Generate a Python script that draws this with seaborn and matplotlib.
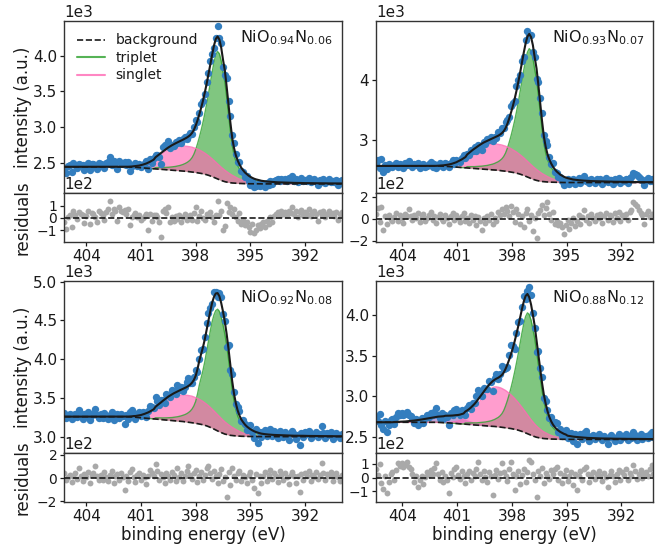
import numpy as np
import pandas as pd
import matplotlib
matplotlib.use("Agg")
import matplotlib.pyplot as plt
from matplotlib.lines import Line2D
import seaborn as sns

# ---------------------------------------------------------------- data
sample_labels = ["NiO$_{0.94}$N$_{0.06}$", "NiO$_{0.93}$N$_{0.07}$",
                 "NiO$_{0.92}$N$_{0.08}$", "NiO$_{0.88}$N$_{0.12}$"]
energy_start = [405.2, 405.45, 405.2, 405.45]      # eV of first channel
energy_step = 0.1
n_channels = 153
xtick_values = [404, 401, 398, 395, 392]
main_yticks = [[2500, 3000, 3500, 4000], [3000, 4000],
               [3000, 3500, 4000, 4500, 5000], [2500, 3000, 3500, 4000]]
main_ylims = [(2068, 4488), (2117, 4983), (2785, 5012), (2294, 4423)]
res_yticks = [[-100, 0, 100], [-200, 0, 200], [-200, 0, 200], [-100, 0, 100]]
res_ylims = [(-195, 198), (-215, 231), (-205, 214), (-176, 178)]

# background (Shirley-like): plateau left / right, transition from channel 33
bg_left = [2440, 2572, 3258, 2677]
bg_right = [2200, 2295, 3000, 2465]
bg_start = 33
bg_1 = [2439, 2439, 2438, 2437, 2436, 2435, 2433, 2431, 2429, 2427,
        2425, 2423, 2421, 2419, 2417, 2415, 2413, 2411, 2409, 2407,
        2405, 2403, 2401, 2399, 2397, 2395, 2393, 2391, 2389, 2387,
        2385, 2383, 2381, 2379, 2376, 2373, 2370, 2367, 2364, 2360,
        2356, 2352, 2347, 2342, 2336, 2329, 2321, 2312, 2302, 2291,
        2280, 2269, 2258, 2248, 2239, 2231, 2225, 2220, 2216, 2213,
        2211, 2209, 2207, 2206, 2205, 2204, 2203, 2203, 2202, 2202,
        2201, 2201, 2201, 2201, 2201]
bg_2 = [2571, 2571, 2570, 2568, 2567, 2566, 2564, 2562, 2559, 2557,
        2555, 2552, 2550, 2548, 2545, 2543, 2541, 2538, 2536, 2534,
        2532, 2529, 2527, 2525, 2522, 2520, 2518, 2515, 2513, 2511,
        2508, 2506, 2504, 2502, 2498, 2495, 2491, 2488, 2484, 2480,
        2475, 2470, 2465, 2459, 2452, 2444, 2435, 2424, 2413, 2400,
        2387, 2375, 2362, 2350, 2340, 2331, 2324, 2318, 2313, 2310,
        2308, 2305, 2303, 2302, 2301, 2300, 2298, 2298, 2297, 2297,
        2296, 2296, 2296, 2296, 2296]
bg_3 = [3257, 3257, 3256, 3255, 3254, 3253, 3250, 3248, 3246, 3244,
        3242, 3240, 3238, 3235, 3233, 3231, 3229, 3227, 3225, 3223,
        3220, 3218, 3216, 3214, 3212, 3210, 3207, 3205, 3203, 3201,
        3199, 3197, 3195, 3192, 3189, 3186, 3183, 3180, 3176, 3172,
        3168, 3163, 3158, 3153, 3146, 3139, 3130, 3120, 3110, 3098,
        3086, 3074, 3062, 3052, 3042, 3033, 3027, 3022, 3017, 3014,
        3012, 3010, 3008, 3006, 3005, 3004, 3003, 3003, 3002, 3002,
        3001, 3001, 3001, 3001, 3001]
bg_4 = [2676, 2676, 2675, 2674, 2673, 2673, 2671, 2669, 2667, 2665,
        2664, 2662, 2660, 2658, 2657, 2655, 2653, 2651, 2650, 2648,
        2646, 2644, 2642, 2641, 2639, 2637, 2635, 2634, 2632, 2630,
        2628, 2627, 2625, 2623, 2620, 2618, 2615, 2612, 2610, 2606,
        2603, 2599, 2595, 2590, 2585, 2579, 2572, 2564, 2555, 2545,
        2536, 2526, 2516, 2507, 2499, 2492, 2487, 2483, 2479, 2476,
        2475, 2473, 2471, 2470, 2469, 2469, 2468, 2468, 2467, 2467,
        2466, 2466, 2466, 2466, 2466]

# triplet component (counts above background), first channel given
trip_start = [50, 50, 50, 49]
trip_1 = [18, 20, 22, 24, 26, 29, 32, 36, 40, 45, 50, 56, 63,
          71, 80, 91, 104, 120, 140, 165, 200, 250, 320,
          405, 500, 605, 720, 850, 990, 1140, 1300, 1460, 1610,
          1730, 1790, 1770, 1680, 1530, 1400, 1190, 960, 730, 530,
          400, 310, 250, 205, 170, 143, 121, 104, 90, 79,
          70, 62, 56, 51, 46, 42, 39, 36, 33, 31,
          29, 27, 25, 24, 22, 21, 20, 19, 18, 17,
          16, 16, 15, 14, 14, 13, 13, 12, 12, 11,
          11, 10, 10, 10, 9, 9, 9, 8, 8, 8,
          8, 7, 7, 7, 7, 6, 6, 6, 6, 6]
trip_2 = [22, 24, 26, 29, 31, 35, 38, 43, 48, 54, 60, 67, 76,
          85, 96, 109, 125, 144, 168, 198, 240, 300, 384,
          486, 600, 726, 864, 1020, 1188, 1368, 1560, 1752, 1932,
          2076, 2148, 2124, 2016, 1836, 1680, 1428, 1152, 876, 636,
          480, 372, 300, 246, 204, 172, 145, 125, 108, 95,
          84, 74, 67, 61, 55, 50, 47, 43, 40, 37,
          35, 32, 30, 29, 26, 25, 24, 23, 22, 20,
          19, 19, 18, 17, 17, 16, 16, 14, 14, 13,
          13, 12, 12, 12, 11, 11, 11, 10, 10, 10,
          10, 8, 8, 8, 8, 7, 7, 7, 7, 7]
trip_3 = [16, 18, 19, 21, 23, 25, 28, 32, 35, 39, 44, 49, 55,
          62, 70, 80, 91, 105, 123, 145, 175, 219, 281,
          380, 500, 600, 700, 820, 960, 1100, 1240, 1370, 1470,
          1540, 1570, 1555, 1490, 1400, 1290, 1150, 980, 790, 600,
          450, 340, 260, 205, 165, 140, 118, 100, 87, 76,
          67, 59, 52, 46, 41, 37, 34, 32, 29, 27,
          25, 24, 22, 21, 19, 18, 18, 17, 16, 15,
          14, 14, 13, 12, 12, 11, 11, 11, 11, 10,
          10, 9, 9, 9, 8, 8, 8, 7, 7, 7,
          7, 6, 6, 6, 6, 5, 5, 5, 5, 5]
trip_4 = [15, 17, 18, 20, 22, 24, 27, 30, 33, 37, 42, 46, 52,
          59, 66, 76, 86, 100, 116, 137, 166, 208, 266,
          336, 415, 502, 598, 706, 822, 946, 1079, 1212, 1336,
          1436, 1490, 1480, 1420, 1320, 1210, 1060, 900, 740, 590,
          460, 360, 280, 220, 175, 142, 117, 98, 84, 73,
          64, 56, 50, 45, 41, 38, 35, 32, 30, 28,
          26, 24, 22, 21, 19, 18, 17, 16, 15, 14,
          13, 13, 12, 12, 11, 11, 11, 10, 10, 9,
          9, 9, 8, 8, 8, 7, 7, 7, 7, 7,
          7, 6, 6, 6, 6, 6, 5, 5, 5, 5, 5]

# singlet component
sing_start = [34, 33, 34, 38]
sing_1 = [2, 3, 5, 8, 12, 16, 22, 28, 36, 45,
          55, 66, 80, 94, 110, 127, 145, 165, 185, 205,
          225, 244, 262, 278, 292, 305, 316, 325, 333, 340,
          345, 348, 351, 352, 352, 350, 348, 343, 338, 331,
          324, 316, 306, 296, 285, 274, 262, 250, 238, 225,
          212, 199, 186, 173, 160, 147, 134, 121, 108, 96,
          84, 72, 62, 52, 44, 36, 30, 24, 18, 14,
          10, 7, 5, 3, 2, 1]
sing_2 = [2, 4, 6, 10, 15, 20, 27, 34, 44, 55,
          68, 81, 98, 116, 135, 156, 178, 203, 228, 252,
          277, 300, 322, 342, 359, 375, 389, 400, 410, 418,
          424, 428, 432, 433, 433, 431, 428, 422, 416, 407,
          399, 389, 376, 364, 351, 337, 322, 308, 293, 277,
          261, 245, 229, 213, 197, 181, 165, 149, 133, 118,
          103, 89, 76, 64, 54, 44, 37, 30, 22, 17,
          12, 9, 6, 4, 2, 1]
sing_3 = [2, 3, 5, 8, 12, 16, 22, 27, 35, 44,
          54, 65, 78, 92, 108, 124, 142, 162, 181, 201,
          221, 239, 257, 272, 286, 299, 310, 319, 326, 333,
          338, 341, 344, 345, 345, 343, 341, 336, 331, 324,
          318, 310, 300, 290, 279, 269, 257, 245, 233, 221,
          208, 195, 182, 170, 157, 144, 131, 119, 106, 94,
          82, 71, 61, 51, 43, 35, 29, 24, 18, 14,
          10, 7, 5, 3, 2, 1]
sing_4 = [4, 5, 7, 10, 14, 19, 25, 32, 41, 53, 66, 83, 101, 122,
          146, 173, 201, 232, 264, 297, 330, 362, 392, 420, 444, 463, 478, 487,
          490,
          489, 485, 479, 470, 459, 446, 432, 416, 398, 380, 360, 340, 319,
          297, 275, 254, 233, 212, 192, 173, 155, 138, 122, 108, 94, 82,
          71, 61, 52, 44, 37, 31, 26, 22, 18, 15, 12, 10]

# small extra component (only in the x = 0.12 sample)
minor_start = [0, 0, 0, 10]
minor_4 = [3, 4, 5, 6, 7, 9, 10, 12, 14, 16,
           18, 21, 24, 27, 30, 34, 38, 42, 46, 50,
           54, 58, 62, 66, 70, 73, 76, 78, 80, 81,
           82, 82, 81, 80, 78, 75, 72, 68, 64, 59,
           54, 49, 44, 39, 34, 29, 25, 21, 17, 14,
           11, 9, 7, 5, 4, 3, 2, 1, 1, 0]

# residuals (data - fit), counts
resid_1 = [-30, -85, 5, 25, -70, 60, 20, -10, 45, 30,
           20, -40, 15, 55, -50, 40, 35, 10, -30, 60,
           40, 25, -15, 50, 70, 135, 30, 75, 55, -25,
           85, 60, 45, 65, 30, 70, -60, 10, 25, 40,
           5, 20, -20, 0, 15, 30, -95, 35, -25, 20,
           25, 10, -35, -150, 60, 75, 40, 85, -30, 10,
           -25, 15, -10, 20, -30, 5, 30, -15, 10, 25,
           -20, 40, 85, -25, 15, 60, 0, -15, 30, 20,
           45, 10, -35, 20, 140, 25, 60, -100, -65, 120,
           50, 85, 35, 70, 10, -25, 40, -50, -20, -60,
           -30, -70, -110, -45, -120, -95, -60, -80, -50, -35,
           -75, -25, -45, 10, -30, 15, 30, 45, 20, 55,
           35, 50, 25, 60, 40, 90, 30, 55, 10, 45,
           65, 25, 50, 35, 70, 15, 40, 60, 30, -25,
           45, 20, 55, 10, 35, 60, 25, 40, 15, 50,
           -20, 30, 45]
resid_2 = [40, 95, -30, 110, -105, 20, -45, 35, 0, -20,
           15, 50, -25, 30, 10, -40, 45, 20, 85, 25,
           -15, 35, 10, 55, -30, 20, 40, -20, 5, 30,
           60, -10, 25, -35, 15, 45, 0, -25, 30, 10,
           -45, 20, 55, -15, 35, 5, -30, 25, 50, -20,
           10, -40, 30, -15, 20, -60, 15, -25, -105, 5,
           -35, 25, -10, 40, -50, 10, -20, 65, 30, 90,
           45, 110, 70, 20, 115, 60, -30, 85, 40, -45,
           25, -80, 55, 90, -20, 35, -110, 10, -175, 50,
           75, 125, 30, 95, 150, 40, -15, 60, -45, -25,
           -60, -35, -80, -140, -55, -15, -95, -40, 10, -70,
           -20, 30, -45, 15, 75, -10, 20, -35, 40, 5,
           -25, 30, 10, 45, -40, 20, 55, -15, 35, 25,
           -30, 50, 10, 60, -20, 35, 15, 45, -10, 65,
           80, 150, 130, 115, 80, 55, 30, -45, 40, 70,
           15, 45, 25]
resid_3 = [45, -20, 10, 30, -35, 15, 40, -10, 85, 20,
           -25, 35, 10, 55, -40, 25, 40, 105, 15, -20,
           30, -15, 50, 10, -30, 25, 60, -45, 15, 35,
           -20, 40, 5, -100, 20, -30, 55, 80, 10, -35,
           25, 45, -15, 30, 5, -50, 20, 70, 40, 15,
           125, 60, -20, 35, 10, -40, 45, 20, -15, 55,
           30, -25, 85, 10, 40, -30, 15, 60, 105, 25,
           -10, 40, 70, -35, 20, 55, -20, 30, 90, 100,
           45, -10, 60, 15, -45, 35, 80, -30, 10, -165,
           50, -60, 85, 20, -15, 40, 65, -25, 30, 10,
           -40, 25, 55, -20, -90, 35, -130, 15, -45, 20,
           50, -25, 30, 70, -10, 45, 15, -35, 60, 25,
           -20, 40, 10, -55, 30, 55, 20, -40, 15, -120,
           35, -15, 45, 20, 60, -25, 30, 10, 50, -10,
           25, 130, 40, -20, 35, 15, 55, -30, 20, 45,
           10, -25, 30]
resid_4 = [60, 20, 100, -40, -85, 10, -115, -30, 25, 40,
           -20, 55, 105, 85, 110, 75, 95, 115, 80, 60,
           30, -30, 10, -65, -20, 15, -45, 5, 40, 20,
           55, 30, 70, 105, 25, -15, 40, -35, 10, -20,
           -115, 35, 5, 60, 80, 20, -10, 45, 15, -40,
           25, 50, -15, 35, 10, 65, 115, 30, -20, 45,
           5, -30, 40, 15, -125, 20, 55, -10, 35, 105,
           40, 10, -25, 60, 115, 30, -90, 15, 45, -50,
           20, 65, -35, 40, 130, 115, 25, -20, -145, 50,
           10, 70, -40, 35, 15, -10, 55, 25, 60, 80,
           -15, 35, -40, 20, 55, -25, 10, 40, -55, 30,
           -90, 15, 45, -20, 60, 80, 25, -35, 10, 40,
           -10, 30, 50, 15, -25, 35, 5, -65, 20, 45,
           10, -30, 25, 55, -15, 40, 20, 60, -20, 35,
           15, 90, 45, -10, 30, 55, -5, 25, 40, 10,
           65, 90, 30]

bg_lists = [bg_1, bg_2, bg_3, bg_4]
trip_lists = [trip_1, trip_2, trip_3, trip_4]
sing_lists = [sing_1, sing_2, sing_3, sing_4]
minor_lists = [[], [], [], minor_4]
resid_lists = [resid_1, resid_2, resid_3, resid_4]


def place(vals, start, n, fill=0.0):
    out = np.full(n, float(fill))
    vals = np.asarray(vals, float)[: n - start]
    out[start:start + len(vals)] = vals
    return out


# ---------------------------------------------------------------- style
sns.set_theme(style="ticks")
plt.rcParams.update({
    "font.family": ["DejaVu Sans"],
    "font.size": 11,
    "axes.labelsize": 12,
    "xtick.labelsize": 11,
    "ytick.labelsize": 11,
    "axes.edgecolor": "0.2",
    "axes.linewidth": 1.0,
    "axes.labelpad": 2.0,
    "xtick.major.size": 3.0,
    "ytick.major.size": 3.0,
    "xtick.major.pad": 2.0,
    "ytick.major.pad": 2.0,
    "xtick.major.width": 0.9,
    "ytick.major.width": 0.9,
    "xtick.color": "0.1",
    "ytick.color": "0.1",
    "text.color": "0.1",
    "axes.labelcolor": "0.1",
})

data_color = "#337ebf"
res_color = "#a9a9a9"
trip_color = "#2ca02c"
sing_color = "hotpink"
minor_color = "#9467bd"

fig = plt.figure(figsize=(6.67, 5.48), dpi=100)
col_x = [0.0964, 0.5637]
col_w = 0.4158
rows = [(0.6473, 0.3144, 0.5578, 0.0895),
        (0.1728, 0.3150, 0.0845, 0.0883)]

for k in range(4):
    r_, c_ = divmod(k, 2)
    mb, mh, rb, rh = rows[r_]
    axm = fig.add_axes([col_x[c_], mb, col_w, mh])
    axr = fig.add_axes([col_x[c_], rb, col_w, rh], sharex=axm)

    E = np.round(energy_start[k] - energy_step * np.arange(n_channels), 2)
    bg = place(bg_lists[k], bg_start, n_channels, fill=bg_right[k])
    bg[:bg_start] = bg_left[k]
    trip = place(trip_lists[k], trip_start[k], n_channels)
    sing = place(sing_lists[k], sing_start[k], n_channels)
    minor = place(minor_lists[k], minor_start[k], n_channels)
    fit = bg + trip + sing + minor
    resid = np.asarray(resid_lists[k], float)
    counts = fit + resid

    df = pd.DataFrame({"E": E, "counts": counts, "fit": fit, "bg": bg,
                       "trip": bg + trip, "sing": bg + sing, "resid": resid})

    # component fills
    axm.fill_between(E, bg, bg + trip, color=trip_color, alpha=0.6, lw=0, zorder=1)
    if len(minor_lists[k]):
        axm.fill_between(E, bg, bg + minor, color=minor_color, alpha=0.6, lw=0, zorder=1.1)
    axm.fill_between(E, bg, bg + sing, color=sing_color, alpha=0.65, lw=0, zorder=1.2)
    sns.lineplot(data=df, x="E", y="trip", ax=axm, color=trip_color, lw=1.0,
                 alpha=0.8, sort=False, legend=False, zorder=1.5)
    sns.lineplot(data=df, x="E", y="sing", ax=axm, color=sing_color, lw=1.0,
                 alpha=0.8, sort=False, legend=False, zorder=1.5)
    sns.scatterplot(data=df, x="E", y="counts", ax=axm, color=data_color, s=28,
                    linewidth=0, legend=False, zorder=2)
    sns.lineplot(data=df, x="E", y="bg", ax=axm, color="k", lw=1.2,
                 linestyle="--", sort=False, legend=False, zorder=3)
    sns.lineplot(data=df, x="E", y="fit", ax=axm, color="k", lw=1.5,
                 sort=False, legend=False, zorder=4)

    axm.set_xlim(E[0], E[-1])
    axm.set_ylim(*main_ylims[k])
    axm.set_yticks(main_yticks[k])
    axm.ticklabel_format(axis="y", style="sci", scilimits=(0, 0))
    axm.tick_params(labelbottom=False)
    axm.set_xlabel("")
    axm.set_ylabel("")
    axm.text(0.968, 0.955, sample_labels[k], transform=axm.transAxes,
             ha="right", va="top", fontsize=11.5)

    # residuals
    sns.scatterplot(data=df, x="E", y="resid", ax=axr, color=res_color, s=18,
                    linewidth=0, legend=False, zorder=2)
    axr.axhline(0, color="k", ls="--", lw=1.2, zorder=3)
    axr.set_ylim(*res_ylims[k])
    axr.set_yticks(res_yticks[k])
    axr.ticklabel_format(axis="y", style="sci", scilimits=(0, 0))
    axr.tick_params(axis="y", labelsize=10)
    axr.set_xticks(xtick_values)
    axr.set_xlim(E[0], E[-1])
    axr.set_ylabel("")
    axr.set_xlabel("binding energy (eV)" if r_ == 1 else "")

    if c_ == 0:
        axm.set_ylabel("intensity (a.u.)")
        axr.set_ylabel("residuals")
        axm.yaxis.set_label_coords(-0.117, 0.5)
        axr.yaxis.set_label_coords(-0.117, 0.5)

    if k == 0:
        handles = [Line2D([], [], color="k", ls="--", lw=1.2),
                   Line2D([], [], color=trip_color, lw=1.5, alpha=0.8),
                   Line2D([], [], color=sing_color, lw=1.5, alpha=0.8)]
        axm.legend(handles, ["background", "triplet", "singlet"],
                   loc="upper left", frameon=False, fontsize=10,
                   labelspacing=0.25, handlelength=2.0)

fig.savefig("out.png", dpi=100)
